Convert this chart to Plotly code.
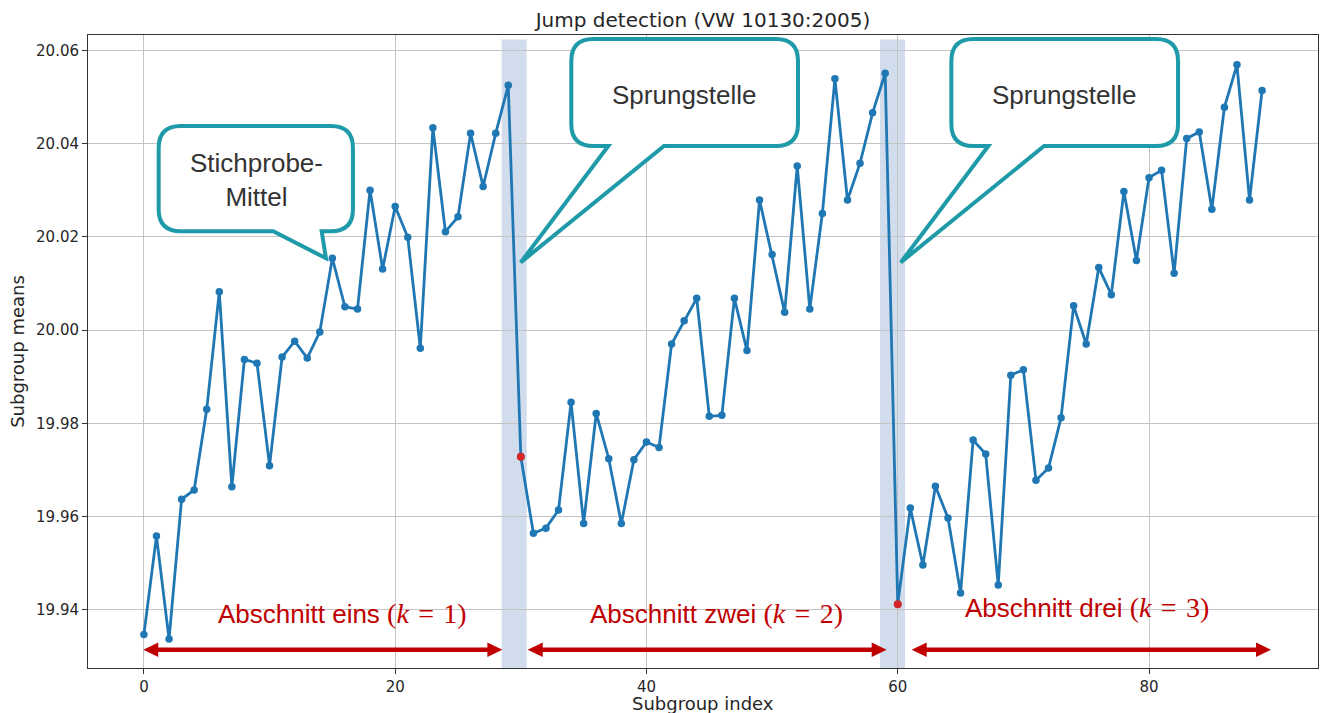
import plotly.graph_objects as go

# ---------------- data ----------------
subgroup_index = list(range(90))
subgroup_means = [
    19.9347, 19.9558, 19.9337, 19.9637, 19.9657, 19.9830, 20.0082, 19.9664, 19.9937, 19.9929,
    19.9709, 19.9942, 19.9976, 19.9940, 19.9996, 20.0154, 20.0050, 20.0045, 20.0300, 20.0131,
    20.0265, 20.0199, 19.9961, 20.0434, 20.0211, 20.0243, 20.0422, 20.0308, 20.0422, 20.0525,
    19.9728, 19.9564, 19.9575, 19.9614, 19.9845, 19.9585, 19.9821, 19.9724, 19.9585, 19.9722,
    19.9760, 19.9748, 19.9970, 20.0020, 20.0068, 19.9815, 19.9817, 20.0068, 19.9956, 20.0279,
    20.0162, 20.0038, 20.0352, 20.0045, 20.0250, 20.0539, 20.0279, 20.0358, 20.0466, 20.0551,
    19.9412, 19.9618, 19.9496, 19.9665, 19.9597, 19.9436, 19.9764, 19.9734, 19.9453, 19.9903,
    19.9915, 19.9678, 19.9704, 19.9812, 20.0052, 19.9970, 20.0134, 20.0076, 20.0297, 20.0149,
    20.0327, 20.0343, 20.0122, 20.0411, 20.0425, 20.0259, 20.0478, 20.0569, 20.0279, 20.0514,
]
jump_index = [30, 60]
band_ranges = [(28.48, 30.47), (58.59, 60.58)]

section_starts = [-0.05, 30.55, 61.11]
section_ends = [28.53, 59.12, 89.71]
section_arrow_y = 19.9314
section_label_x = [15.81, 45.56, 75.04]
section_label_y = [19.9393, 19.9393, 19.9404]
section_names = ["Abschnitt eins", "Abschnitt zwei", "Abschnitt drei"]
section_k = ["1", "2", "3"]

callout_texts = ["Stichprobe-<br>Mittel", "Sprungstelle", "Sprungstelle"]
callout_tip_x = [14.49, 29.99, 60.24]
callout_tip_y = [20.0154, 20.0145, 20.0145]

x_tick_vals = [0, 20, 40, 60, 80]
y_tick_vals = [19.94, 19.96, 19.98, 20.00, 20.02, 20.04, 20.06]

# ---------------- layout constants ----------------
W, H = 1327, 713
ML, MR, MT, MB = 88, 9, 35, 45
X_RANGE = [-4.45, 93.45]
Y_RANGE = [19.9275, 20.0633]
px_per_x = (W - ML - MR) / (X_RANGE[1] - X_RANGE[0])

BLUE = "#1f77b4"
RED_PT = "#d62728"
DARK_RED = "#c00000"
TEAL = "#1e9aa8"
GRID = "#c4c4c4"
TXT = "#262626"

fig = go.Figure()

fig.add_trace(go.Scatter(
    x=subgroup_index, y=subgroup_means, mode="lines+markers",
    line=dict(color=BLUE, width=2.8),
    marker=dict(color=BLUE, size=7.5),
    showlegend=False, hoverinfo="x+y",
))
fig.add_trace(go.Scatter(
    x=jump_index, y=[subgroup_means[i] for i in jump_index], mode="markers",
    marker=dict(color=RED_PT, size=8),
    showlegend=False,
))

shapes = []
# shaded bands at jump positions
for (b0, b1) in band_ranges:
    shapes.append(dict(type="rect", xref="x", yref="paper", x0=b0, x1=b1, y0=0, y1=0.993,
                       fillcolor="rgba(176,196,222,0.58)", line=dict(width=0), layer="between"))

# double arrows for sections
head_len, head_half = 15, 7.3
for xs, xe in zip(section_starts, section_ends):
    shorten = (head_len - 3) / px_per_x
    shapes.append(dict(type="line", xref="x", yref="y", x0=xs + shorten, x1=xe - shorten,
                       y0=section_arrow_y, y1=section_arrow_y,
                       line=dict(color=DARK_RED, width=4.5), layer="above"))
    shapes.append(dict(type="path", xref="x", yref="y", xsizemode="pixel", ysizemode="pixel",
                       xanchor=xs, yanchor=section_arrow_y,
                       path=f"M0,0 L{head_len},{head_half} L{head_len},{-head_half} Z",
                       fillcolor=DARK_RED, line=dict(width=0), layer="above"))
    shapes.append(dict(type="path", xref="x", yref="y", xsizemode="pixel", ysizemode="pixel",
                       xanchor=xe, yanchor=section_arrow_y,
                       path=f"M0,0 L{-head_len},{head_half} L{-head_len},{-head_half} Z",
                       fillcolor=DARK_RED, line=dict(width=0), layer="above"))


def callout_path(left, right, top, bottom, base_a, base_b, r):
    return (f"M{left + r},{top} L{right - r},{top} Q{right},{top} {right},{top - r} "
            f"L{right},{bottom + r} Q{right},{bottom} {right - r},{bottom} "
            f"L{base_b},{bottom} L0,0 L{base_a},{bottom} "
            f"L{left + r},{bottom} Q{left},{bottom} {left},{bottom + r} "
            f"L{left},{top - r} Q{left},{top} {left + r},{top} Z")


# callout geometry (pixels relative to the tip, y up)
callout_geom = [
    dict(left=-167.3, right=27, top=132.3, bottom=27, base_a=-52.7, base_b=-4.3, r=22,
         tx=-69.2, ty=77.8),
    dict(left=50.6, right=277.3, top=223.4, bottom=116.4, base_a=87.6, base_b=143.3, r=22,
         tx=163.3, ty=167.7),
    dict(left=50.6, right=277.3, top=223.4, bottom=116.4, base_a=87.6, base_b=143.3, r=22,
         tx=163.3, ty=167.7),
]

annotations = []
for txt, cx, cy, g in zip(callout_texts, callout_tip_x, callout_tip_y, callout_geom):
    shapes.append(dict(type="path", xref="x", yref="y", xsizemode="pixel", ysizemode="pixel",
                       xanchor=cx, yanchor=cy,
                       path=callout_path(g["left"], g["right"], g["top"], g["bottom"],
                                         g["base_a"], g["base_b"], g["r"]),
                       fillcolor="white", line=dict(color=TEAL, width=4), layer="above"))
    annotations.append(dict(x=cx, y=cy, xref="x", yref="y", text=txt, showarrow=False,
                            xshift=g["tx"], yshift=g["ty"], xanchor="center", yanchor="middle",
                            align="center",
                            font=dict(family="Liberation Sans, Arial", size=26, color="#333333")))

for name, k, lx, ly in zip(section_names, section_k, section_label_x, section_label_y):
    label = (f"{name} <span style=\"font-family:'Liberation Serif'; font-size:28px\">"
             f"(<i>k</i>\u2004=\u2004{k})</span>")
    annotations.append(dict(x=lx, y=ly, xref="x", yref="y", text=label, showarrow=False,
                            xanchor="center", yanchor="middle",
                            font=dict(family="Liberation Sans, Arial", size=26, color=DARK_RED)))

# x-axis title placed just below the tick labels
annotations.append(dict(x=0.5, y=0, xref="paper", yref="paper", text="Subgroup index",
                        showarrow=False, xanchor="center", yanchor="top", yshift=-23,
                        font=dict(family="DejaVu Sans", size=18, color=TXT)))

axis_common = dict(
    showgrid=True, gridcolor=GRID, gridwidth=1,
    showline=True, linecolor="#333333", linewidth=1, mirror=True,
    ticks="outside", ticklen=5, tickwidth=1, tickcolor="#333333",
    tickfont=dict(family="DejaVu Sans", size=15, color=TXT),
    zeroline=False, automargin=False,
)

fig.update_layout(
    width=W, height=H,
    margin=dict(l=ML, r=MR, t=MT, b=MB, autoexpand=False),
    paper_bgcolor="white", plot_bgcolor="white",
    title=dict(text="Jump detection (VW 10130:2005)", x=0.5, xref="paper", xanchor="center",
               y=1 - 20 / H, yref="container", yanchor="middle",
               font=dict(family="DejaVu Sans", size=20, color=TXT)),
    xaxis=dict(range=X_RANGE, tickvals=x_tick_vals, **axis_common),
    yaxis=dict(range=Y_RANGE, tickvals=y_tick_vals, tickformat=".2f",
               title=dict(text="Subgroup means", standoff=6,
                          font=dict(family="DejaVu Sans", size=18, color=TXT)),
               **axis_common),
    shapes=shapes,
    annotations=annotations,
    showlegend=False,
)

fig.write_html("out.html", config={"displayModeBar": False},
               post_script="document.body.style.margin='0px';")
